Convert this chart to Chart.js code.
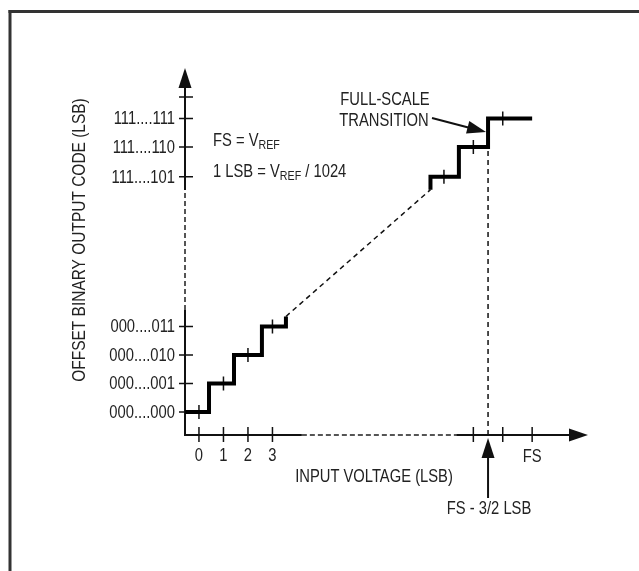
<!DOCTYPE html>
<html>
<head>
<meta charset="utf-8">
<script src="https://cdn.jsdelivr.net/npm/chart.js@4.4.1/dist/chart.umd.min.js"></script>
<style>
  body { margin: 0; background: #fff; }
  #wrap { position: relative; width: 639px; height: 571px; }
</style>
</head>
<body>
<div id="wrap"><canvas id="grafico" width="639" height="571"></canvas></div>
<script>
// dados do diagrama (unidades esquematicas: x em LSB, y em codigo)
const xTickValues = [0, 1, 2, 3, 11.2, 12.4, 13.6];
const xTickLabels = ['0', '1', '2', '3', '', '', 'FS'];
const yTickValues = [0, 1, 2, 3, 8.25, 9.3, 10.3, 11.05];
const yTickLabels = ['000....000', '000....001', '000....010', '000....011', '111....101', '111....110', '111....111', ''];

// degraus inferiores e superiores
const lowerStairX = [-0.57, 0.41, 1.43, 2.57, 3.55];
const lowerStairY = [0, 1, 2, 3, 3.35];
const upperStairX = [9.45, 10.61, 11.8, 13.6];
const upperStairY = [7.8, 8.25, 9.3, 10.3];

// marcas no meio de cada degrau
const stepTickX = [0, 1, 2, 3, 10.0, 11.2, 12.4];
const stepTickY = [0, 1, 2, 3, 8.25, 9.3, 10.3];

// transicao de fundo de escala
const transitionX = 11.8;
const transitionY = 9.3;

// limites dos eixos
const xMin = -0.57, xMax = 15.88;
const yMin = -0.81, yMax = 12.07;

const fonte = '"Liberation Sans", Arial, sans-serif';
const estreito = 0.82; // simula fonte condensada
const corTexto = '#222';

function pontos(xs, ys) {
    return xs.map((x, i) => ({ x: x, y: ys[i] }));
}

const diagonal = [
    { x: lowerStairX[lowerStairX.length - 1], y: lowerStairY[lowerStairY.length - 1] },
    { x: upperStairX[0], y: upperStairY[0] }
];
const linhaTransicao = [
    { x: transitionX, y: yMin },
    { x: transitionX, y: transitionY }
];

function seta(ctx, x1, y1, x2, y2, comp, larg) {
    const ang = Math.atan2(y2 - y1, x2 - x1);
    ctx.beginPath();
    ctx.moveTo(x2, y2);
    ctx.lineTo(x2 - comp * Math.cos(ang) + larg * Math.sin(ang), y2 - comp * Math.sin(ang) - larg * Math.cos(ang));
    ctx.lineTo(x2 - comp * Math.cos(ang) - larg * Math.sin(ang), y2 - comp * Math.sin(ang) + larg * Math.cos(ang));
    ctx.closePath();
    ctx.fill();
}

function texto(ctx, t, x, y, alinha, rot, esc) {
    ctx.save();
    ctx.translate(x, y);
    if (rot) ctx.rotate(rot);
    ctx.scale(esc || estreito, 1);
    ctx.font = '18px ' + fonte;
    ctx.textAlign = alinha;
    ctx.textBaseline = 'middle';
    ctx.fillText(t, 0, 0);
    ctx.restore();
}

function textoSub(ctx, x, y, partes) {
    // partes: [texto, subscrito?]
    let cx = x;
    partes.forEach(([t, sub]) => {
        ctx.save();
        ctx.translate(cx, sub ? y + 4 : y);
        ctx.scale(estreito, 1);
        ctx.font = (sub ? '13px ' : '18px ') + fonte;
        ctx.textAlign = 'left';
        ctx.textBaseline = 'middle';
        ctx.fillText(t, 0, 0);
        cx += ctx.measureText(t).width * estreito;
        ctx.restore();
    });
}

const desenhoDiagrama = {
    id: 'desenhoDiagrama',
    beforeDraw(chart) {
        const ctx = chart.ctx;
        ctx.save();
        ctx.fillStyle = '#fff';
        ctx.fillRect(0, 0, chart.width, chart.height);
        // moldura (so esquerda e topo aparecem)
        ctx.fillStyle = '#333';
        ctx.fillRect(8.5, 10, 3, chart.height - 10);
        ctx.fillRect(8.5, 10, chart.width - 8.5, 3);
        ctx.restore();
    },
    beforeDatasetsDraw(chart) {
        const ctx = chart.ctx;
        const xs = chart.scales.x, ys = chart.scales.y;
        const x0 = xs.getPixelForValue(xMin);
        const y0 = ys.getPixelForValue(yMin);
        const xEnd = xs.getPixelForValue(xMax);
        const yTop = ys.getPixelForValue(yMax);
        ctx.save();
        ctx.strokeStyle = '#111';
        ctx.fillStyle = '#111';
        ctx.lineWidth = 2;

        // eixo y: solido, tracejado, solido
        const yQuebraA = ys.getPixelForValue(3.58);
        const yQuebraB = ys.getPixelForValue(7.79);
        ctx.beginPath();
        ctx.moveTo(x0, y0 + 1); ctx.lineTo(x0, yQuebraA);
        ctx.moveTo(x0, yQuebraB); ctx.lineTo(x0, yTop + 15);
        ctx.stroke();
        // eixo x
        const xQuebraA = xs.getPixelForValue(4.2);
        const xQuebraB = xs.getPixelForValue(10.5);
        ctx.beginPath();
        ctx.moveTo(x0 - 1, y0); ctx.lineTo(xQuebraA, y0);
        ctx.moveTo(xQuebraB, y0); ctx.lineTo(xEnd - 15, y0);
        ctx.stroke();
        ctx.strokeStyle = '#555';
        ctx.setLineDash([5, 3]);
        ctx.beginPath();
        ctx.moveTo(x0, yQuebraA); ctx.lineTo(x0, yQuebraB);
        ctx.moveTo(xQuebraA, y0); ctx.lineTo(xQuebraB, y0);
        ctx.stroke();
        ctx.setLineDash([]);
        ctx.strokeStyle = '#111';
        // pontas de seta
        seta(ctx, x0, y0, x0, yTop, 20, 6.5);
        seta(ctx, x0, y0, xEnd, y0, 19, 6.5);

        // marcas do eixo y
        ctx.lineWidth = 1.5;
        ctx.beginPath();
        yTickValues.forEach(v => {
            const p = ys.getPixelForValue(v);
            ctx.moveTo(x0 - 6, p); ctx.lineTo(x0 + 8, p);
        });
        // marcas do eixo x
        xTickValues.forEach(v => {
            const p = xs.getPixelForValue(v);
            ctx.moveTo(p, y0 - 8); ctx.lineTo(p, y0 + 7);
        });
        // marcas nos degraus
        stepTickX.forEach((v, i) => {
            const px = xs.getPixelForValue(v);
            const py = ys.getPixelForValue(stepTickY[i]);
            ctx.moveTo(px, py - 7); ctx.lineTo(px, py + 7);
        });
        ctx.stroke();

        // rotulos
        ctx.fillStyle = corTexto;
        yTickValues.forEach((v, i) => {
            texto(ctx, yTickLabels[i], x0 - 10, ys.getPixelForValue(v) + 1, 'right');
        });
        xTickValues.forEach((v, i) => {
            texto(ctx, xTickLabels[i], xs.getPixelForValue(v), i < 4 ? 456 : 457, 'center');
        });
        texto(ctx, 'INPUT VOLTAGE (LSB)', 374, 477, 'center');
        texto(ctx, 'OFFSET BINARY OUTPUT CODE (LSB)', 80, 240, 'center', -Math.PI / 2, 0.86);

        // notas
        textoSub(ctx, 213, 141, [['FS = V', false], ['REF', true]]);
        textoSub(ctx, 213, 172, [['1 LSB = V', false], ['REF', true], [' / 1024', false]]);
        texto(ctx, 'FULL-SCALE', 385, 100, 'center');
        texto(ctx, 'TRANSITION', 384, 121, 'center');
        const tx = xs.getPixelForValue(transitionX);
        texto(ctx, 'FS - 3/2 LSB', tx + 1, 509, 'center');

        // setas das notas
        ctx.strokeStyle = '#111';
        ctx.fillStyle = '#111';
        ctx.lineWidth = 2;
        ctx.beginPath();
        ctx.moveTo(432, 118); ctx.lineTo(474, 129);
        ctx.stroke();
        seta(ctx, 432, 118, tx - 2, 132, 19, 6.5);
        ctx.beginPath();
        ctx.moveTo(tx, 498); ctx.lineTo(tx, 455);
        ctx.stroke();
        seta(ctx, tx, 498, tx, y0 + 3, 20, 6.5);
        ctx.restore();
    }
};

const estiloDegrau = {
    borderColor: '#000',
    borderWidth: 4,
    pointRadius: 0,
    borderJoinStyle: 'miter',
    borderCapStyle: 'butt',
    fill: false,
    clip: false
};

new Chart(document.querySelector('#grafico'), {
    type: 'line',
    data: {
        datasets: [
            // no Chart.js 'before' anda na horizontal e depois sobe
            Object.assign({ label: 'inferior', data: pontos(lowerStairX, lowerStairY), stepped: 'before' }, estiloDegrau),
            Object.assign({ label: 'superior', data: pontos(upperStairX, upperStairY), stepped: 'after' }, estiloDegrau),
            {
                label: 'diagonal', data: diagonal, borderColor: '#111', borderWidth: 1.5,
                borderDash: [5, 4], pointRadius: 0, fill: false, clip: false
            },
            {
                label: 'transicao', data: linhaTransicao, borderColor: '#111', borderWidth: 1.5,
                borderDash: [5, 4], pointRadius: 0, fill: false, clip: false
            }
        ]
    },
    options: {
        responsive: false,
        animation: false,
        events: [],
        layout: { padding: { left: 185, right: 51, top: 68, bottom: 136 } },
        scales: {
            x: { type: 'linear', min: xMin, max: xMax, display: false },
            y: { type: 'linear', min: yMin, max: yMax, display: false }
        },
        plugins: {
            legend: { display: false },
            tooltip: { enabled: false }
        }
    },
    plugins: [desenhoDiagrama]
});
</script>
</body>
</html>
